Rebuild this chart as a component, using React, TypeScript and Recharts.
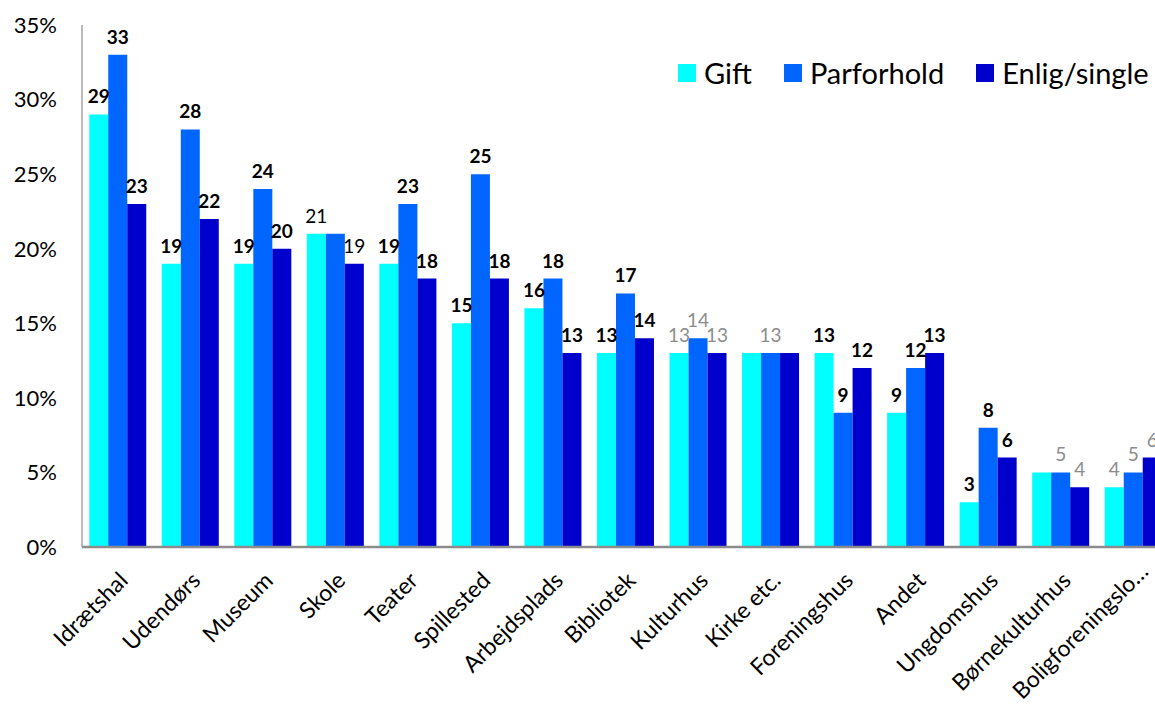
import { BarChart, Bar, XAxis, YAxis, LabelList } from 'recharts'

const categories = [
  'Idrætshal', 'Udendørs', 'Museum', 'Skole', 'Teater', 'Spillested', 'Arbejdsplads',
  'Bibliotek', 'Kulturhus', 'Kirke etc.', 'Foreningshus', 'Andet', 'Ungdomshus',
  'Børnekulturhus', 'Boligforeningslo…',
]
const gift = [29, 19, 19, 21, 19, 15, 16, 13, 13, 13, 13, 9, 3, 5, 4]
const parforhold = [33, 28, 24, 21, 23, 25, 18, 17, 14, 13, 9, 12, 8, 5, 5]
const enlig = [23, 22, 20, 19, 18, 18, 13, 14, 13, 13, 12, 13, 6, 4, 6]

// label look per bar: b = bold black, n = plain black, g = grey, '' = no label
const giftLabels = ['b', 'b', 'b', 'n', 'b', 'b', 'b', 'b', 'g', '', 'b', 'b', 'b', '', 'g']
const parforholdLabels = ['b', 'b', 'b', '', 'b', 'b', 'b', 'b', 'g', 'g', 'b', 'b', 'b', 'g', 'g']
const enligLabels = ['b', 'b', 'b', 'n', 'b', 'b', 'b', 'b', 'g', '', 'b', 'b', 'b', 'g', 'g']

const yTicks = [0, 5, 10, 15, 20, 25, 30, 35]

const series = [
  { key: 'gift', name: 'Gift', color: '#00FFFF', labels: giftLabels },
  { key: 'parforhold', name: 'Parforhold', color: '#0066FF', labels: parforholdLabels },
  { key: 'enlig', name: 'Enlig/single', color: '#0000CC', labels: enligLabels },
]

const FONT = 'Lato, "Open Sans", sans-serif'

const data = categories.map((name, i) => ({
  name,
  gift: gift[i],
  parforhold: parforhold[i],
  enlig: enlig[i],
}))

function makeLabel(styles: string[]) {
  return (props: any) => {
    const { x, y, width, value, index } = props
    const s = styles[index]
    if (!s) return null
    return (
      <text
        x={x + width / 2}
        y={y - 11}
        textAnchor="middle"
        fontFamily={FONT}
        fontSize={19}
        fontWeight={s === 'b' ? 700 : 400}
        fill={s === 'g' ? '#8c8c8c' : '#000'}
      >
        {value}
      </text>
    )
  }
}

function XTick(props: any) {
  const { x, y, payload } = props
  // the cut-off last label sits a bit higher, as in the original
  const cut = String(payload.value).endsWith('…')
  const ax = x + (cut ? 16 : 11)
  const ay = y + (cut ? 26 : 35)
  return (
    <text
      x={ax}
      y={ay}
      textAnchor="end"
      fontFamily={FONT}
      fontSize={23}
      fill="#000"
      transform={`rotate(-45, ${ax}, ${ay})`}
    >
      {payload.value}
    </text>
  )
}

export default function App() {
  return (
    <div
      style={{
        position: 'fixed',
        top: 0,
        left: 0,
        width: 1155,
        height: 705,
        overflow: 'hidden',
        background: '#fff',
      }}
    >
      <BarChart
        width={1170}
        height={705}
        data={data}
        margin={{ top: 25, right: 0, left: 0, bottom: 0 }}
        barCategoryGap="10%"
        barGap={0}
      >
        <XAxis
          dataKey="name"
          interval={0}
          height={158}
          tickSize={0}
          tickMargin={0}
          tickLine={false}
          axisLine={{ stroke: '#8c8c8c', strokeWidth: 2.5 }}
          tick={<XTick />}
        />
        <YAxis
          width={82}
          domain={[0, 35]}
          ticks={yTicks}
          tickFormatter={(v) => `${v}%`}
          tickLine={false}
          tickSize={0}
          tickMargin={25}
          axisLine={{ stroke: '#a6a6a6', strokeWidth: 1.5 }}
          tick={{ fontFamily: FONT, fontSize: 22, fill: '#000' }}
        />
        {series.map((s) => (
          <Bar key={s.key} dataKey={s.key} name={s.name} fill={s.color} isAnimationActive={false}>
            <LabelList dataKey={s.key} content={makeLabel(s.labels)} />
          </Bar>
        ))}
      </BarChart>
      <div
        style={{
          position: 'absolute',
          top: 55,
          left: 678,
          display: 'flex',
          alignItems: 'center',
          fontFamily: FONT,
          fontSize: 29,
          color: '#000',
          whiteSpace: 'nowrap',
        }}
      >
        {series.map((s) => (
          <div key={s.key} style={{ display: 'flex', alignItems: 'center', marginRight: 32 }}>
            <span style={{ width: 18, height: 18, background: s.color, marginRight: 8, display: 'inline-block' }} />
            <span>{s.name}</span>
          </div>
        ))}
      </div>
    </div>
  )
}
